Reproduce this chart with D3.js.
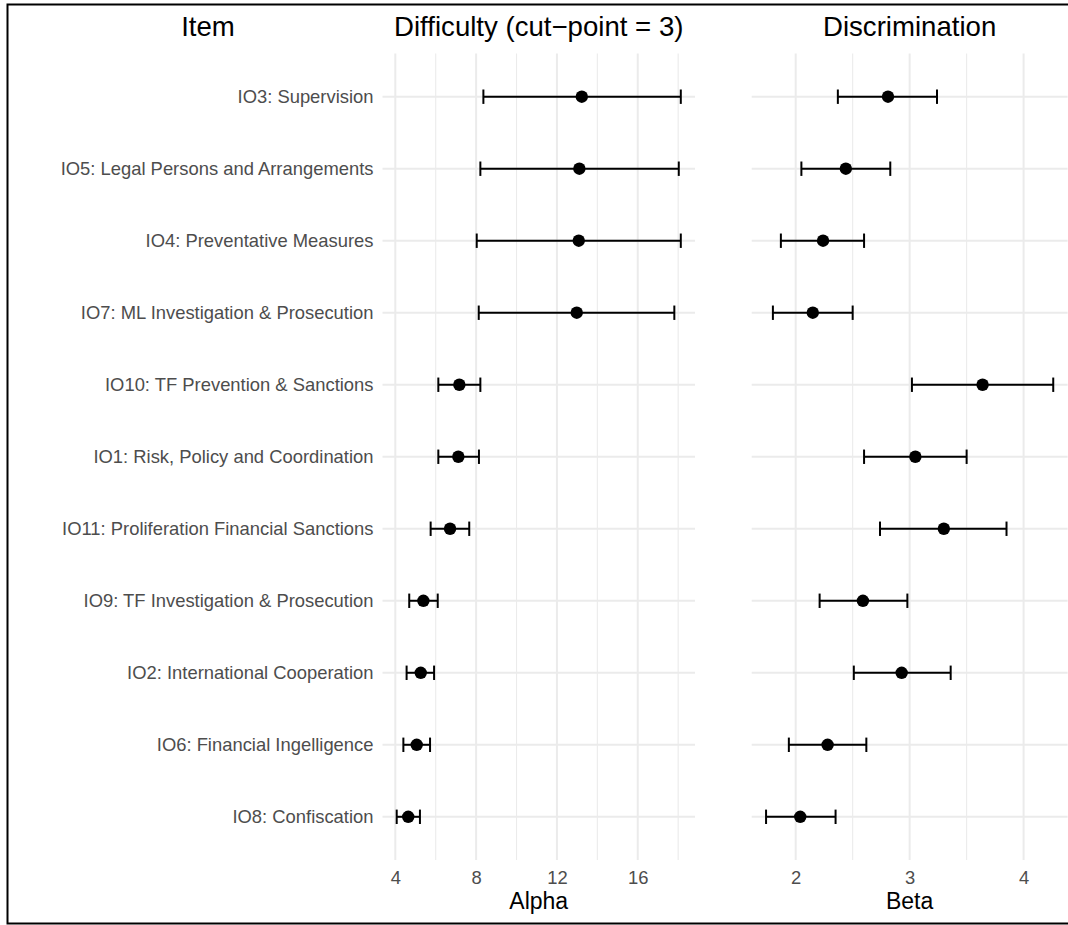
<!DOCTYPE html>
<html>
<head>
<meta charset="utf-8">
<script src="https://cdn.jsdelivr.net/npm/d3@7"></script>
<style>
  html, body { margin: 0; padding: 0; background: #fff; }
  svg { display: block; font-family: "Liberation Sans", Arial, Helvetica, sans-serif; }
</style>
</head>
<body>
<svg id="chart" width="1068" height="925"></svg>
<script>
// Item labels, top to bottom
const items = [
  "IO3: Supervision",
  "IO5: Legal Persons and Arrangements",
  "IO4: Preventative Measures",
  "IO7: ML Investigation & Prosecution",
  "IO10: TF Prevention & Sanctions",
  "IO1: Risk, Policy and Coordination",
  "IO11: Proliferation Financial Sanctions",
  "IO9: TF Investigation & Prosecution",
  "IO2: International Cooperation",
  "IO6: Financial Ingelligence",
  "IO8: Confiscation"
];

// Difficulty (alpha) estimates with interval bounds
const alpha   = [13.23, 13.11, 13.08, 12.98, 7.17, 7.12, 6.71, 5.39, 5.26, 5.06, 4.64];
const alphaLo = [8.36, 8.21, 8.03, 8.13, 6.13, 6.13, 5.75, 4.69, 4.56, 4.40, 4.07];
const alphaHi = [18.13, 18.03, 18.13, 17.81, 8.21, 8.14, 7.66, 6.10, 5.92, 5.72, 5.22];

// Discrimination (beta) estimates with interval bounds
const beta   = [2.81, 2.44, 2.24, 2.15, 3.64, 3.05, 3.30, 2.59, 2.93, 2.28, 2.04];
const betaLo = [2.37, 2.05, 1.87, 1.80, 3.02, 2.60, 2.74, 2.21, 2.51, 1.94, 1.74];
const betaHi = [3.24, 2.83, 2.60, 2.50, 4.26, 3.50, 3.85, 2.98, 3.36, 2.62, 2.35];

// Axis ticks
const alphaTicks = [4, 8, 12, 16];
const alphaMinor = [6, 10, 14, 18];
const betaTicks = [2, 3, 4];
const betaMinor = [2.5, 3.5];

const titles = ["Item", "Difficulty (cut\u2212point = 3)", "Discrimination"];
const axisTitles = ["Alpha", "Beta"];

const svg = d3.select("#chart");
const GRID = "#EBEBEB";
const TEXT_GREY = "#4D4D4D";

// outer frame
svg.append("rect")
  .attr("x", 7.5).attr("y", 4.5)
  .attr("width", 1070).attr("height", 919)
  .attr("fill", "none").attr("stroke", "#000").attr("stroke-width", 2);

const panelTop = 53.5, panelBottom = 860;
const y = d3.scalePoint().domain(items).range([panelTop, panelBottom]).padding(0.6);

function expanded(lo, hi) {
  const mn = d3.min(lo), mx = d3.max(hi), pad = (mx - mn) * 0.05;
  return [mn - pad, mx + pad];
}

function panel(opts) {
  const x = d3.scaleLinear().domain(expanded(opts.lo, opts.hi)).range(opts.range);
  const g = svg.append("g");

  // minor vertical grid
  g.selectAll("line.minor").data(opts.minor).join("line")
    .attr("class", "minor")
    .attr("x1", d => x(d)).attr("x2", d => x(d))
    .attr("y1", panelTop).attr("y2", panelBottom)
    .attr("stroke", GRID).attr("stroke-width", 1.1);
  // major vertical grid
  g.selectAll("line.major").data(opts.ticks).join("line")
    .attr("class", "major")
    .attr("x1", d => x(d)).attr("x2", d => x(d))
    .attr("y1", panelTop).attr("y2", panelBottom)
    .attr("stroke", GRID).attr("stroke-width", 2);
  // horizontal grid per item
  g.selectAll("line.hgrid").data(items).join("line")
    .attr("class", "hgrid")
    .attr("x1", opts.range[0]).attr("x2", opts.range[1])
    .attr("y1", d => y(d)).attr("y2", d => y(d))
    .attr("stroke", GRID).attr("stroke-width", 2);

  // x axis
  const ax = g.append("g")
    .attr("transform", `translate(0,${panelBottom})`)
    .call(d3.axisBottom(x).tickValues(opts.ticks).tickSize(0).tickPadding(11).tickFormat(d3.format("d")));
  ax.select(".domain").remove();
  ax.selectAll("text").attr("fill", TEXT_GREY).style("font-size", "18.4px");

  // axis title
  g.append("text")
    .attr("x", (opts.range[0] + opts.range[1]) / 2).attr("y", 909)
    .attr("text-anchor", "middle").attr("fill", "#000")
    .style("font-size", "23px").text(opts.axisTitle);

  // panel title
  g.append("text")
    .attr("x", (opts.range[0] + opts.range[1]) / 2).attr("y", 36)
    .attr("text-anchor", "middle").attr("fill", "#000")
    .style("font-size", "27.6px").text(opts.title);

  // error bars with point estimates
  const eb = g.selectAll("g.eb").data(items).join("g").attr("class", "eb");
  const capH = y.step() * 0.1;
  eb.append("line")
    .attr("x1", (d, i) => x(opts.lo[i])).attr("x2", (d, i) => x(opts.hi[i]))
    .attr("y1", d => y(d)).attr("y2", d => y(d))
    .attr("stroke", "#000").attr("stroke-width", 2);
  eb.append("line")
    .attr("x1", (d, i) => x(opts.lo[i])).attr("x2", (d, i) => x(opts.lo[i]))
    .attr("y1", d => y(d) - capH).attr("y2", d => y(d) + capH)
    .attr("stroke", "#000").attr("stroke-width", 2);
  eb.append("line")
    .attr("x1", (d, i) => x(opts.hi[i])).attr("x2", (d, i) => x(opts.hi[i]))
    .attr("y1", d => y(d) - capH).attr("y2", d => y(d) + capH)
    .attr("stroke", "#000").attr("stroke-width", 2);
  eb.append("circle")
    .attr("cx", (d, i) => x(opts.est[i])).attr("cy", d => y(d))
    .attr("r", 6.2).attr("fill", "#000");

  return x;
}

panel({ est: alpha, lo: alphaLo, hi: alphaHi, range: [382.5, 695],
        ticks: alphaTicks, minor: alphaMinor, title: titles[1], axisTitle: axisTitles[0] });
panel({ est: beta, lo: betaLo, hi: betaHi, range: [751.7, 1067.6],
        ticks: betaTicks, minor: betaMinor, title: titles[2], axisTitle: axisTitles[1] });

// item labels
const yAxis = svg.append("g")
  .attr("transform", "translate(382.5,0)")
  .call(d3.axisLeft(y).tickSize(0).tickPadding(9));
yAxis.select(".domain").remove();
yAxis.selectAll("text").attr("fill", TEXT_GREY).style("font-size", "18.4px");

svg.append("text")
  .attr("x", 208).attr("y", 36)
  .attr("text-anchor", "middle").attr("fill", "#000")
  .style("font-size", "27.6px").text(titles[0]);
</script>
</body>
</html>
